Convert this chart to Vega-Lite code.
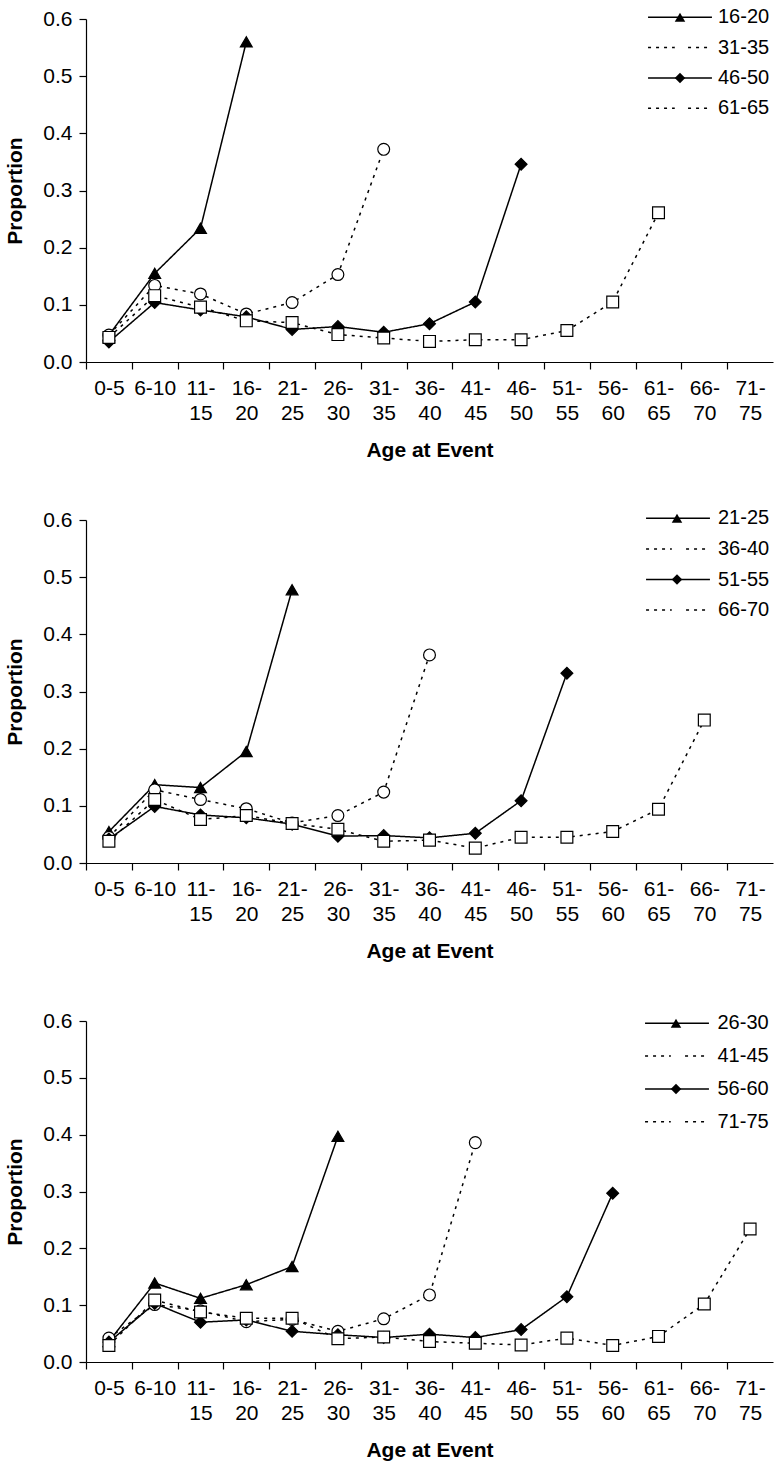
{
  "$schema": "https://vega.github.io/schema/vega-lite/v6.json",
  "padding": {"left": 4, "top": 7, "right": 4, "bottom": 2},
  "background": "white",
  "datasets": {
    "p1": [
      {"cohort":"16-20","age":"0-5","proportion":0.047},{"cohort":"16-20","age":"6-10","proportion":0.155},{"cohort":"16-20","age":"11-15","proportion":0.234},{"cohort":"16-20","age":"16-20","proportion":0.56},
      {"cohort":"31-35","age":"0-5","proportion":0.047},{"cohort":"31-35","age":"6-10","proportion":0.134},{"cohort":"31-35","age":"11-15","proportion":0.119},{"cohort":"31-35","age":"16-20","proportion":0.084},{"cohort":"31-35","age":"21-25","proportion":0.104},{"cohort":"31-35","age":"26-30","proportion":0.153},{"cohort":"31-35","age":"31-35","proportion":0.372},
      {"cohort":"46-50","age":"0-5","proportion":0.035},{"cohort":"46-50","age":"6-10","proportion":0.104},{"cohort":"46-50","age":"11-15","proportion":0.091},{"cohort":"46-50","age":"16-20","proportion":0.079},{"cohort":"46-50","age":"21-25","proportion":0.057},{"cohort":"46-50","age":"26-30","proportion":0.062},{"cohort":"46-50","age":"31-35","proportion":0.052},{"cohort":"46-50","age":"36-40","proportion":0.067},{"cohort":"46-50","age":"41-45","proportion":0.105},{"cohort":"46-50","age":"46-50","proportion":0.346},
      {"cohort":"61-65","age":"0-5","proportion":0.043},{"cohort":"61-65","age":"6-10","proportion":0.116},{"cohort":"61-65","age":"11-15","proportion":0.096},{"cohort":"61-65","age":"16-20","proportion":0.072},{"cohort":"61-65","age":"21-25","proportion":0.069},{"cohort":"61-65","age":"26-30","proportion":0.048},{"cohort":"61-65","age":"31-35","proportion":0.042},{"cohort":"61-65","age":"36-40","proportion":0.036},{"cohort":"61-65","age":"41-45","proportion":0.039},{"cohort":"61-65","age":"46-50","proportion":0.039},{"cohort":"61-65","age":"51-55","proportion":0.055},{"cohort":"61-65","age":"56-60","proportion":0.105},{"cohort":"61-65","age":"61-65","proportion":0.261}
    ],
    "p2": [
      {"cohort":"21-25","age":"0-5","proportion":0.055},{"cohort":"21-25","age":"6-10","proportion":0.137},{"cohort":"21-25","age":"11-15","proportion":0.132},{"cohort":"21-25","age":"16-20","proportion":0.195},{"cohort":"21-25","age":"21-25","proportion":0.478},
      {"cohort":"36-40","age":"0-5","proportion":0.045},{"cohort":"36-40","age":"6-10","proportion":0.128},{"cohort":"36-40","age":"11-15","proportion":0.111},{"cohort":"36-40","age":"16-20","proportion":0.095},{"cohort":"36-40","age":"21-25","proportion":0.07},{"cohort":"36-40","age":"26-30","proportion":0.083},{"cohort":"36-40","age":"31-35","proportion":0.124},{"cohort":"36-40","age":"36-40","proportion":0.364},
      {"cohort":"51-55","age":"0-5","proportion":0.042},{"cohort":"51-55","age":"6-10","proportion":0.099},{"cohort":"51-55","age":"11-15","proportion":0.084},{"cohort":"51-55","age":"16-20","proportion":0.079},{"cohort":"51-55","age":"21-25","proportion":0.068},{"cohort":"51-55","age":"26-30","proportion":0.047},{"cohort":"51-55","age":"31-35","proportion":0.048},{"cohort":"51-55","age":"36-40","proportion":0.044},{"cohort":"51-55","age":"41-45","proportion":0.052},{"cohort":"51-55","age":"46-50","proportion":0.109},{"cohort":"51-55","age":"51-55","proportion":0.332},
      {"cohort":"66-70","age":"0-5","proportion":0.038},{"cohort":"66-70","age":"6-10","proportion":0.111},{"cohort":"66-70","age":"11-15","proportion":0.076},{"cohort":"66-70","age":"16-20","proportion":0.083},{"cohort":"66-70","age":"21-25","proportion":0.069},{"cohort":"66-70","age":"26-30","proportion":0.059},{"cohort":"66-70","age":"31-35","proportion":0.038},{"cohort":"66-70","age":"36-40","proportion":0.04},{"cohort":"66-70","age":"41-45","proportion":0.026},{"cohort":"66-70","age":"46-50","proportion":0.045},{"cohort":"66-70","age":"51-55","proportion":0.045},{"cohort":"66-70","age":"56-60","proportion":0.055},{"cohort":"66-70","age":"61-65","proportion":0.094},{"cohort":"66-70","age":"66-70","proportion":0.25}
    ],
    "p3": [
      {"cohort":"26-30","age":"0-5","proportion":0.036},{"cohort":"26-30","age":"6-10","proportion":0.139},{"cohort":"26-30","age":"11-15","proportion":0.112},{"cohort":"26-30","age":"16-20","proportion":0.136},{"cohort":"26-30","age":"21-25","proportion":0.168},{"cohort":"26-30","age":"26-30","proportion":0.397},
      {"cohort":"41-45","age":"0-5","proportion":0.042},{"cohort":"41-45","age":"6-10","proportion":0.101},{"cohort":"41-45","age":"11-15","proportion":0.09},{"cohort":"41-45","age":"16-20","proportion":0.071},{"cohort":"41-45","age":"21-25","proportion":0.075},{"cohort":"41-45","age":"26-30","proportion":0.054},{"cohort":"41-45","age":"31-35","proportion":0.076},{"cohort":"41-45","age":"36-40","proportion":0.118},{"cohort":"41-45","age":"41-45","proportion":0.386},
      {"cohort":"56-60","age":"0-5","proportion":0.035},{"cohort":"56-60","age":"6-10","proportion":0.103},{"cohort":"56-60","age":"11-15","proportion":0.07},{"cohort":"56-60","age":"16-20","proportion":0.074},{"cohort":"56-60","age":"21-25","proportion":0.054},{"cohort":"56-60","age":"26-30","proportion":0.048},{"cohort":"56-60","age":"31-35","proportion":0.043},{"cohort":"56-60","age":"36-40","proportion":0.049},{"cohort":"56-60","age":"41-45","proportion":0.043},{"cohort":"56-60","age":"46-50","proportion":0.057},{"cohort":"56-60","age":"51-55","proportion":0.115},{"cohort":"56-60","age":"56-60","proportion":0.297},
      {"cohort":"71-75","age":"0-5","proportion":0.029},{"cohort":"71-75","age":"6-10","proportion":0.109},{"cohort":"71-75","age":"11-15","proportion":0.088},{"cohort":"71-75","age":"16-20","proportion":0.077},{"cohort":"71-75","age":"21-25","proportion":0.077},{"cohort":"71-75","age":"26-30","proportion":0.041},{"cohort":"71-75","age":"31-35","proportion":0.044},{"cohort":"71-75","age":"36-40","proportion":0.036},{"cohort":"71-75","age":"41-45","proportion":0.033},{"cohort":"71-75","age":"46-50","proportion":0.03},{"cohort":"71-75","age":"51-55","proportion":0.042},{"cohort":"71-75","age":"56-60","proportion":0.029},{"cohort":"71-75","age":"61-65","proportion":0.045},{"cohort":"71-75","age":"66-70","proportion":0.102},{"cohort":"71-75","age":"71-75","proportion":0.234}
    ]
  },
  "vconcat": [
    {
      "width": 687, "height": 343,
      "data": {"name": "p1"},
      "resolve": {"axis": {"x": "independent"}},
      "layer": [
        {
          "mark": {"type": "line", "strokeWidth": 1.5},
          "encoding": {
            "x": {"field": "age", "type": "ordinal", "scale": {"type": "point", "padding": 0.5, "domain": ["0-5","6-10","11-15","16-20","21-25","26-30","31-35","36-40","41-45","46-50","51-55","56-60","61-65","66-70","71-75"]}, "axis": {"orient": "bottom", "title": null, "labelAngle": 0, "tickOffset": -22.9, "labelOffset": 22.9, "labelOverlap": false, "labelExpr": "length(datum.label) > 4 ? slice(datum.label, 0, 3) : datum.label", "labelPadding": 8, "tickSize": 7}},
            "y": {"field": "proportion", "type": "quantitative", "scale": {"domain": [0, 0.6]}, "axis": {"title": "Proportion", "values": [0,0.1,0.2,0.3,0.4,0.5,0.6], "format": ".1f", "grid": false, "tickSize": 7, "labelPadding": 7, "titlePadding": 17}},
            "color": {"field": "cohort", "type": "nominal", "scale": {"domain": ["16-20","31-35","46-50","61-65"], "range": ["black","black","black","black"]}, "legend": {"title": null, "orient": "none", "legendX": 584, "legendY": -11.7, "symbolType": "M-3.55,0H3.55", "symbolSize": 324, "symbolStrokeWidth": 1.5, "rowPadding": 10.3, "padding": 0, "labelOffset": 28}},
            "strokeDash": {"field": "cohort", "type": "nominal", "scale": {"domain": ["16-20","31-35","46-50","61-65"], "range": [[1,0],[3,5],[1,0],[3,5]]}, "legend": {"title": null, "orient": "none", "legendX": 584, "legendY": -11.7, "symbolType": "M-3.55,0H3.55", "symbolSize": 324, "symbolStrokeWidth": 1.5, "rowPadding": 10.3, "padding": 0, "labelOffset": 28}}
          }
        },
        {
          "mark": {"type": "point", "filled": true, "opacity": 1, "stroke": "black", "strokeWidth": 1.2, "size": 140},
          "encoding": {
            "x": {"field": "age", "type": "ordinal", "axis": {"orient": "bottom", "title": "Age at Event", "labelAngle": 0, "labelOverlap": false, "labelExpr": "length(datum.label) > 4 ? slice(datum.label, 3) : ''", "labelPadding": 40, "tickSize": 7, "ticks": false, "domain": false, "titlePadding": 16}},
            "y": {"field": "proportion", "type": "quantitative"},
            "shape": {"field": "cohort", "type": "nominal", "scale": {"range": ["triangle-up","circle","diamond","square"]}, "legend": {"title": null, "orient": "none", "legendX": 584, "legendY": -11.7, "symbolSize": 110, "symbolStrokeWidth": 1.2, "symbolStrokeColor": "black", "rowPadding": 10.3, "padding": 0, "labelOpacity": 0, "encode": {"symbols": {"update": {"stroke": {"value": "black"}, "strokeWidth": {"value": 1.2}, "opacity": {"value": 1}}}}}},
            "fill": {"field": "cohort", "type": "nominal", "scale": {"range": ["black","white","black","white"]}, "legend": {"title": null, "orient": "none", "legendX": 584, "legendY": -11.7, "symbolSize": 110, "symbolStrokeWidth": 1.2, "symbolStrokeColor": "black", "rowPadding": 10.3, "padding": 0, "labelOpacity": 0, "encode": {"symbols": {"update": {"stroke": {"value": "black"}, "strokeWidth": {"value": 1.2}, "opacity": {"value": 1}}}}}}
          }
        }
      ]
    },
    {
      "width": 687, "height": 343,
      "data": {"name": "p2"},
      "resolve": {"axis": {"x": "independent"}},
      "layer": [
        {
          "mark": {"type": "line", "strokeWidth": 1.5},
          "encoding": {
            "x": {"field": "age", "type": "ordinal", "scale": {"type": "point", "padding": 0.5, "domain": ["0-5","6-10","11-15","16-20","21-25","26-30","31-35","36-40","41-45","46-50","51-55","56-60","61-65","66-70","71-75"]}, "axis": {"orient": "bottom", "title": null, "labelAngle": 0, "tickOffset": -22.9, "labelOffset": 22.9, "labelOverlap": false, "labelExpr": "length(datum.label) > 4 ? slice(datum.label, 0, 3) : datum.label", "labelPadding": 8, "tickSize": 7}},
            "y": {"field": "proportion", "type": "quantitative", "scale": {"domain": [0, 0.6]}, "axis": {"title": "Proportion", "values": [0,0.1,0.2,0.3,0.4,0.5,0.6], "format": ".1f", "grid": false, "tickSize": 7, "labelPadding": 7, "titlePadding": 17}},
            "color": {"field": "cohort", "type": "nominal", "scale": {"domain": ["21-25","36-40","51-55","66-70"], "range": ["black","black","black","black"]}, "legend": {"title": null, "orient": "none", "legendX": 582, "legendY": -11.7, "symbolType": "M-3.55,0H3.55", "symbolSize": 324, "symbolStrokeWidth": 1.5, "rowPadding": 10.6, "padding": 0, "labelOffset": 30}},
            "strokeDash": {"field": "cohort", "type": "nominal", "scale": {"domain": ["21-25","36-40","51-55","66-70"], "range": [[1,0],[3,5],[1,0],[3,5]]}, "legend": {"title": null, "orient": "none", "legendX": 582, "legendY": -11.7, "symbolType": "M-3.55,0H3.55", "symbolSize": 324, "symbolStrokeWidth": 1.5, "rowPadding": 10.6, "padding": 0, "labelOffset": 30}}
          }
        },
        {
          "mark": {"type": "point", "filled": true, "opacity": 1, "stroke": "black", "strokeWidth": 1.2, "size": 140},
          "encoding": {
            "x": {"field": "age", "type": "ordinal", "axis": {"orient": "bottom", "title": "Age at Event", "labelAngle": 0, "labelOverlap": false, "labelExpr": "length(datum.label) > 4 ? slice(datum.label, 3) : ''", "labelPadding": 40, "tickSize": 7, "ticks": false, "domain": false, "titlePadding": 16}},
            "y": {"field": "proportion", "type": "quantitative"},
            "shape": {"field": "cohort", "type": "nominal", "scale": {"range": ["triangle-up","circle","diamond","square"]}, "legend": {"title": null, "orient": "none", "legendX": 581, "legendY": -11.7, "symbolSize": 110, "symbolStrokeWidth": 1.2, "symbolStrokeColor": "black", "rowPadding": 10.6, "padding": 0, "labelOpacity": 0, "encode": {"symbols": {"update": {"stroke": {"value": "black"}, "strokeWidth": {"value": 1.2}, "opacity": {"value": 1}}}}}},
            "fill": {"field": "cohort", "type": "nominal", "scale": {"range": ["black","white","black","white"]}, "legend": {"title": null, "orient": "none", "legendX": 581, "legendY": -11.7, "symbolSize": 110, "symbolStrokeWidth": 1.2, "symbolStrokeColor": "black", "rowPadding": 10.6, "padding": 0, "labelOpacity": 0, "encode": {"symbols": {"update": {"stroke": {"value": "black"}, "strokeWidth": {"value": 1.2}, "opacity": {"value": 1}}}}}}
          }
        }
      ]
    },
    {
      "width": 687, "height": 341,
      "data": {"name": "p3"},
      "resolve": {"axis": {"x": "independent"}},
      "layer": [
        {
          "mark": {"type": "line", "strokeWidth": 1.5},
          "encoding": {
            "x": {"field": "age", "type": "ordinal", "scale": {"type": "point", "padding": 0.5, "domain": ["0-5","6-10","11-15","16-20","21-25","26-30","31-35","36-40","41-45","46-50","51-55","56-60","61-65","66-70","71-75"]}, "axis": {"orient": "bottom", "title": null, "labelAngle": 0, "tickOffset": -22.9, "labelOffset": 22.9, "labelOverlap": false, "labelExpr": "length(datum.label) > 4 ? slice(datum.label, 0, 3) : datum.label", "labelPadding": 8, "tickSize": 7}},
            "y": {"field": "proportion", "type": "quantitative", "scale": {"domain": [0, 0.6]}, "axis": {"title": "Proportion", "values": [0,0.1,0.2,0.3,0.4,0.5,0.6], "format": ".1f", "grid": false, "tickSize": 7, "labelPadding": 7, "titlePadding": 17}},
            "color": {"field": "cohort", "type": "nominal", "scale": {"domain": ["26-30","41-45","56-60","71-75"], "range": ["black","black","black","black"]}, "legend": {"title": null, "orient": "none", "legendX": 581, "legendY": -7.7, "symbolType": "M-3.55,0H3.55", "symbolSize": 324, "symbolStrokeWidth": 1.5, "rowPadding": 12.8, "padding": 0, "labelOffset": 30.5}},
            "strokeDash": {"field": "cohort", "type": "nominal", "scale": {"domain": ["26-30","41-45","56-60","71-75"], "range": [[1,0],[3,5],[1,0],[3,5]]}, "legend": {"title": null, "orient": "none", "legendX": 581, "legendY": -7.7, "symbolType": "M-3.55,0H3.55", "symbolSize": 324, "symbolStrokeWidth": 1.5, "rowPadding": 12.8, "padding": 0, "labelOffset": 30.5}}
          }
        },
        {
          "mark": {"type": "point", "filled": true, "opacity": 1, "stroke": "black", "strokeWidth": 1.2, "size": 140},
          "encoding": {
            "x": {"field": "age", "type": "ordinal", "axis": {"orient": "bottom", "title": "Age at Event", "labelAngle": 0, "labelOverlap": false, "labelExpr": "length(datum.label) > 4 ? slice(datum.label, 3) : ''", "labelPadding": 40, "tickSize": 7, "ticks": false, "domain": false, "titlePadding": 16}},
            "y": {"field": "proportion", "type": "quantitative"},
            "shape": {"field": "cohort", "type": "nominal", "scale": {"range": ["triangle-up","circle","diamond","square"]}, "legend": {"title": null, "orient": "none", "legendX": 580, "legendY": -7.7, "symbolSize": 110, "symbolStrokeWidth": 1.2, "symbolStrokeColor": "black", "rowPadding": 12.8, "padding": 0, "labelOpacity": 0, "encode": {"symbols": {"update": {"stroke": {"value": "black"}, "strokeWidth": {"value": 1.2}, "opacity": {"value": 1}}}}}},
            "fill": {"field": "cohort", "type": "nominal", "scale": {"range": ["black","white","black","white"]}, "legend": {"title": null, "orient": "none", "legendX": 580, "legendY": -7.7, "symbolSize": 110, "symbolStrokeWidth": 1.2, "symbolStrokeColor": "black", "rowPadding": 12.8, "padding": 0, "labelOpacity": 0, "encode": {"symbols": {"update": {"stroke": {"value": "black"}, "strokeWidth": {"value": 1.2}, "opacity": {"value": 1}}}}}}
          }
        }
      ]
    }
  ],
  "spacing": 158,
  "bounds": "flush",
  "resolve": {
    "scale": {"color": "independent", "strokeDash": "independent", "shape": "independent", "fill": "independent"},
    "legend": {"color": "independent", "strokeDash": "independent", "shape": "independent", "fill": "independent"}
  },
  "config": {
    "view": {"stroke": null},
    "font": "Liberation Sans",
    "axis": {"labelFont": "Liberation Sans", "titleFont": "Liberation Sans", "labelFontSize": 21, "titleFontSize": 21, "titleFontWeight": "bold", "labelColor": "black", "titleColor": "black", "domainColor": "black", "tickColor": "black", "domainWidth": 1.2, "tickWidth": 1.2},
    "legend": {"labelFont": "Liberation Sans", "labelFontSize": 20, "labelColor": "black"}
  }
}
